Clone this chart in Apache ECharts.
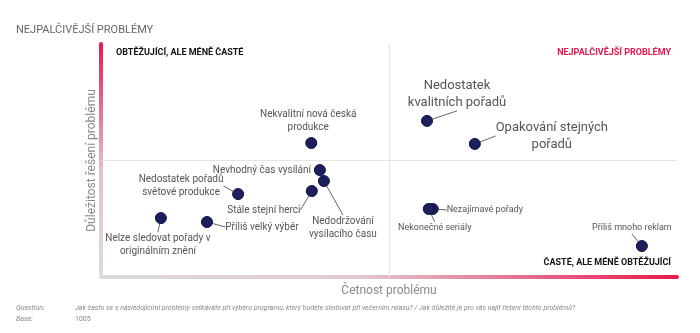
<!DOCTYPE html>
<html><head><meta charset="utf-8">
<script src="https://cdn.jsdelivr.net/npm/echarts@6/dist/echarts.min.js"></script>
<style>html,body{margin:0;padding:0;background:#fff}#c{width:700px;height:333px}</style>
</head><body><div id="c"></div>
<script>
// ---- data ----
const problems = [
  'Nedostatek\nkvalitních pořadů',
  'Opakování stejných\npořadů',
  'Nekvalitní nová česká\nprodukce',
  'Nevhodný čas vysílání',
  'Nedodržování\nvysílacího času',
  'Stále stejní herci',
  'Nedostatek pořadů\nsvětové produkce',
  'Nelze sledovat pořady v\noriginálním znění',
  'Příliš velký výběr',
  'Nezajímavé pořady',
  'Nekonečné seriály',
  'Příliš mnoho reklam'
];
const frequency  = [56.6, 64.9, 36.5, 38.0, 38.7, 36.6, 23.8, 10.4, 18.4, 57.6, 56.9, 93.9];
const importance = [67.0, 57.1, 57.5, 45.9, 41.2, 36.9, 35.6, 25.3, 23.6, 29.2, 29.2, 13.3];

// ---- label styling (offsets from point, font size, leader line) ----
const labelOffsets = [[30,-27],[77,-8],[-3,-22],[-58,0],[19,47],[-48,19],[-57,-8],[-3,27],[55,5],[52,1],[6,19],[-10,-18]];
const labelSizes   = [13,13,10,10,10,10,10,10,10,9,9,9];
const labelLines   = [true,true,false,false,true,true,true,true,true,true,true,true];

const FONT = 'Roboto, "Noto Sans", sans-serif';
const chart = echarts.init(document.getElementById('c'));

const data = problems.map((n, i) => ({
  name: n,
  value: [frequency[i], importance[i]],
  label: { fontSize: labelSizes[i], lineHeight: Math.round(labelSizes[i] * 1.3) },
  labelLine: { show: labelLines[i] }
}));

chart.setOption({
  animation: false,
  backgroundColor: '#fff',
  textStyle: { fontFamily: FONT },
  grid: { left: 101, right: 23, top: 44, bottom: 56 },
  xAxis: {
    type: 'value', min: 0, max: 100,
    name: 'Četnost problému', nameLocation: 'middle', nameGap: 8,
    nameTextStyle: { color: '#8a8a8a', fontSize: 12, fontFamily: FONT },
    axisLine: { show: true, onZero: false, lineStyle: { width: 4,
      color: new echarts.graphic.LinearGradient(0, 0, 1, 0, [
        { offset: 0, color: '#dcdcdc' }, { offset: 0.45, color: '#e2c9cf' }, { offset: 1, color: '#e8174d' }]) } },
    axisTick: { show: false }, axisLabel: { show: false }, splitLine: { show: false }
  },
  yAxis: {
    type: 'value', min: 0, max: 100,
    name: 'Důležitost řešení problému', nameLocation: 'middle', nameGap: 3,
    nameTextStyle: { color: '#8a8a8a', fontSize: 12, fontFamily: FONT },
    axisLine: { show: true, onZero: false, lineStyle: { width: 4,
      color: new echarts.graphic.LinearGradient(0, 1, 0, 0, [
        { offset: 0, color: '#dcdcdc' }, { offset: 0.45, color: '#e2c3cb' }, { offset: 1, color: '#e8174d' }]) } },
    axisTick: { show: false }, axisLabel: { show: false }, splitLine: { show: false }
  },
  series: [{
    type: 'scatter',
    symbolSize: 11,
    itemStyle: { color: '#1b1f5c', borderColor: '#0f1240', borderWidth: 1, opacity: 1 },
    label: {
      show: true, position: 'inside', align: 'center', verticalAlign: 'middle',
      formatter: p => p.name, color: '#555', fontFamily: FONT
    },
    labelLine: { show: true, lineStyle: { color: '#666', width: 1 } },
    labelLayout: p => ({ dx: labelOffsets[p.dataIndex][0], dy: labelOffsets[p.dataIndex][1] }),
    data: data,
    markLine: {
      silent: true, symbol: 'none', label: { show: false },
      lineStyle: { color: '#e4e4e4', type: 'solid', width: 1 },
      data: [{ xAxis: 50 }, { yAxis: 50 }]
    }
  }],
  graphic: [
    { type: 'text', left: 16, top: 25, style: { text: 'NEJPALČIVĚJŠÍ PROBLÉMY', fill: '#666', font: '11px ' + FONT } },
    { type: 'text', left: 116, top: 48, style: { text: 'OBTĚŽUJÍCÍ, ALE MÉNĚ ČASTÉ', fill: '#111', font: 'bold 9px ' + FONT } },
    { type: 'text', right: 29, top: 48, style: { text: 'NEJPALČIVĚJŠÍ PROBLÉMY', fill: '#e8174d', font: 'bold 9px ' + FONT } },
    { type: 'text', right: 29, top: 258, style: { text: 'ČASTÉ, ALE MÉNĚ OBTĚŽUJÍCÍ', fill: '#111', font: 'bold 9px ' + FONT } },
    { type: 'text', left: 16, top: 305, style: { text: 'Question:', fill: '#888', font: 'italic 7px ' + FONT } },
    { type: 'text', left: 75, top: 305, style: { text: 'Jak často se s následujícími problémy setkáváte při výběru programu, který budete sledovat při večerním relaxu? / Jak důležité je pro vás najít řešení těchto problémů?', fill: '#888', font: 'italic 7px ' + FONT } },
    { type: 'text', left: 16, top: 316, style: { text: 'Base:', fill: '#888', font: 'italic 7px ' + FONT } },
    { type: 'text', left: 75, top: 316, style: { text: '1005', fill: '#888', font: '7px ' + FONT } }
  ]
});
</script>
</body></html>
